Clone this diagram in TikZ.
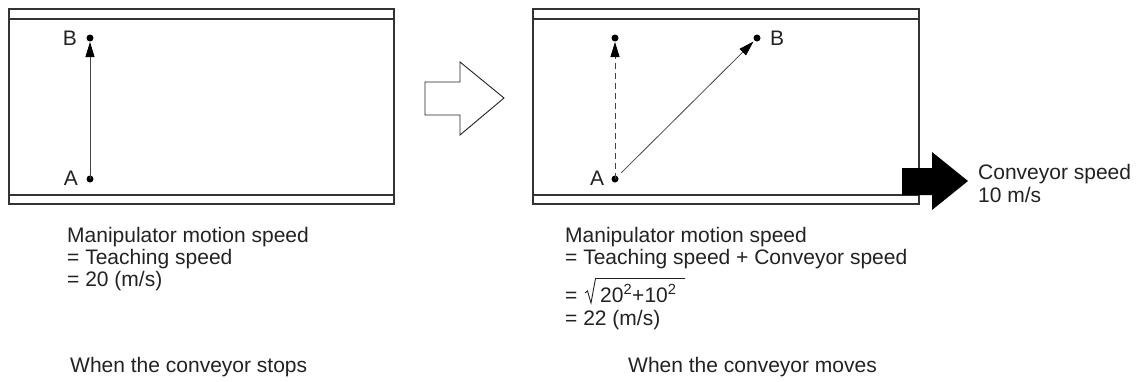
\documentclass[tikz,border=0pt]{standalone}
\usepackage{fontspec}
\setmainfont{Liberation Sans}
\usetikzlibrary{arrows.meta}
\definecolor{ink}{HTML}{222222}
\definecolor{boxline}{HTML}{333333}
\definecolor{arrline}{HTML}{444444}
\tikzset{
  x=1pt, y=-1pt,
  every node/.style={font=\fontsize{21}{22}\selectfont, text=ink, inner sep=0pt},
  beltbox/.style={draw=boxline, line width=1.3pt},
  beltline/.style={draw=boxline, line width=1.1pt},
  pointdot/.style={circle, fill=black, minimum size=7pt, inner sep=0pt},
  motion/.style={draw=arrline, line width=0.8pt, -{Triangle[length=15pt,width=9pt,color=black]}},
  txt/.style={anchor=base west},
}
\begin{document}
\begin{tikzpicture}
\useasboundingbox (0,0) rectangle (1137,381);
% left belt
\draw[beltbox] (9,9) rectangle (394,204);
\draw[beltline] (9,19) -- (394,19);
\draw[beltline] (9,195) -- (394,195);
% right belt
\draw[beltbox] (533,9) rectangle (919,204);
\draw[beltline] (533,19) -- (919,19);
\draw[beltline] (533,195) -- (919,195);
% left points
\node[pointdot] (lA) at (90,179) {};
\node[pointdot] (lB) at (90,38) {};
\node (lAlab) at (71,178) {A};
\node (lBlab) at (70,38) {B};
\draw[motion, shorten >=4pt] (lA.center) -- (lB.center);
% right points
\node[pointdot] (rA) at (615,179) {};
\node[pointdot] (rT) at (615,38) {};
\node[pointdot] (rB) at (757,38) {};
\node (rAlab) at (597,178) {A};
\node (rBlab) at (777,38) {B};
\draw[motion, dash pattern=on 6pt off 4pt, shorten >=4pt] (rA.center) -- (rT.center);
\draw[motion, shorten <=9pt, shorten >=5pt] (rA.center) -- (rB.center);
% hollow transition arrow
\draw[line width=0.9pt, draw=ink, fill=white]
  (425,82) -- (460,82) -- (460,62) -- (504,98) -- (460,135) -- (460,115) -- (425,115) -- cycle;
% conveyor arrow
\fill[black]
  (902,168) -- (932,168) -- (932,152) -- (968,181) -- (932,210) -- (932,195) -- (902,195) -- cycle;
\node[txt] (cv1) at (978,179) {Conveyor speed};
\node[txt] (cv2) at (978,202) {10 m/s};
% left texts
\node[txt] (l1) at (67,242) {Manipulator motion speed};
\node[txt] (l2) at (67,264) {= Teaching speed};
\node[txt] (l3) at (67,286) {= 20 (m/s)};
\node[txt] (lcap) at (70,372) {When the conveyor stops};
% right texts
\node[txt] (r1) at (565,242) {Manipulator motion speed};
\node[txt] (r2) at (565,264) {= Teaching speed + Conveyor speed};
\node[txt] (r3) at (565,302) {=};
\node[txt] (r3b) at (600,302) {20\textsuperscript{2}+10\textsuperscript{2}};
\draw[draw=ink, line width=0.9pt, line join=miter]
  (585,293) -- (587.5,291) -- (591,303) -- (595.5,278.5) -- (685,278.5);
\node[txt] (r4) at (565,325) {= 22 (m/s)};
\node[txt] (rcap) at (628,372) {When the conveyor moves};
\end{tikzpicture}
\end{document}
